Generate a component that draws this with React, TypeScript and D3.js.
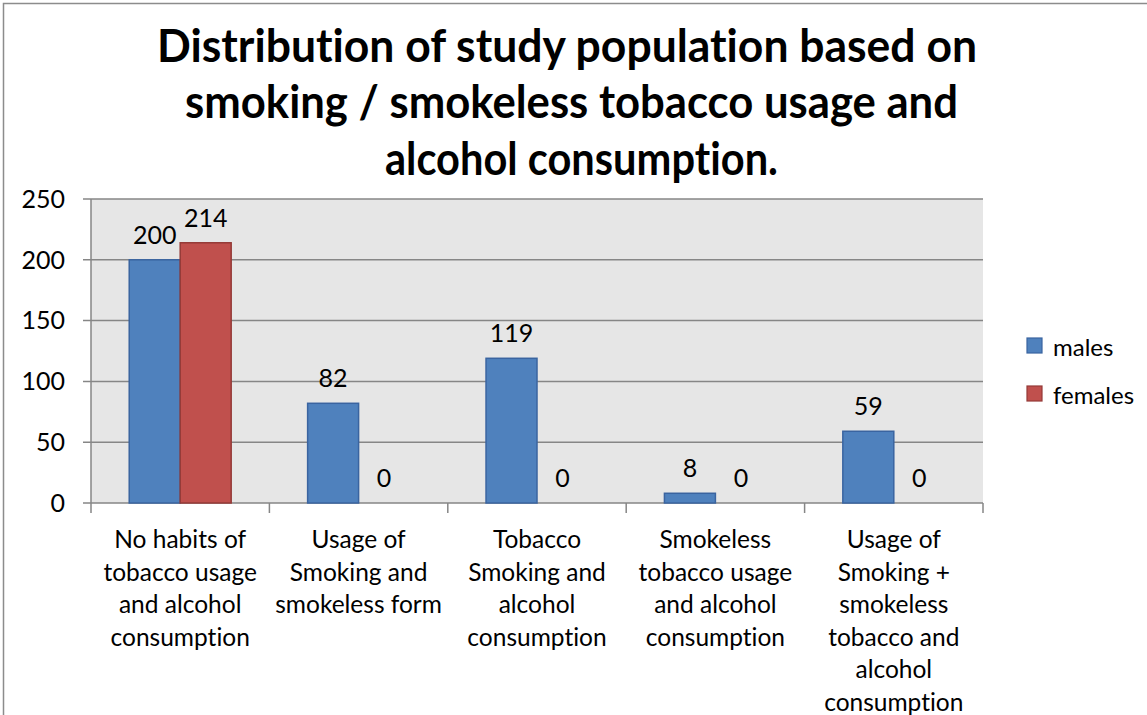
import React from "react";
import * as d3 from "d3";

const categories: string[][] = [
  ["No habits of", "tobacco usage", "and alcohol", "consumption"],
  ["Usage of", "Smoking and", "smokeless form"],
  ["Tobacco", "Smoking and", "alcohol", "consumption"],
  ["Smokeless", "tobacco usage", "and alcohol", "consumption"],
  ["Usage of", "Smoking +", "smokeless", "tobacco and", "alcohol", "consumption"],
];
const males: number[] = [200, 82, 119, 8, 59];
const females: number[] = [214, 0, 0, 0, 0];
const seriesNames: string[] = ["males", "females"];
const yTicks: number[] = [0, 50, 100, 150, 200, 250];
const titleLines: string[] = [
  "Distribution of study population based on",
  "smoking / smokeless tobacco usage and",
  "alcohol consumption.",
];

const W = 1147;
const H = 715;
const FONT = "Lato, 'Open Sans', sans-serif";
const fills = ["#4f81bd", "#c0504d"];
const strokes = ["#3a64a0", "#943a37"];

export default function App() {
  const plot = { left: 91, right: 983, top: 199, bottom: 503 };
  const x = d3
    .scaleBand<number>()
    .domain(d3.range(categories.length))
    .range([plot.left, plot.right])
    .paddingInner(0)
    .paddingOuter(0);
  const y = d3.scaleLinear().domain([0, 250]).range([plot.bottom, plot.top]);
  const inner = d3
    .scaleBand<number>()
    .domain([0, 1])
    .range([0, x.bandwidth()])
    .paddingInner(0)
    .paddingOuter(0.75);
  const series = [males, females];
  const titleX = [157, 185, 385];
  const titleLen = [820, 773, 393];
  const titleY = [62, 118, 175];
  const lineH = 32.5;

  return (
    <svg
      width={W}
      height={H}
      style={{ position: "absolute", left: 0, top: 0, background: "#fff", fontVariantLigatures: "none" }}
      fontFamily={FONT}
    >
      <rect x={3.5} y={3.5} width={W + 20} height={H + 20} fill="#fff" stroke="#8c8c8c" strokeWidth={1.5} />
      {titleLines.map((t, i) => (
        <text
          key={i}
          x={titleX[i]}
          y={titleY[i]}
          fontSize={45}
          fontWeight="bold"
          fill="#000"
          textLength={titleLen[i]}
          lengthAdjust="spacingAndGlyphs"
          style={{ fontVariantLigatures: "none" }}
        >
          {t}
        </text>
      ))}
      <rect
        x={plot.left}
        y={plot.top}
        width={plot.right - plot.left}
        height={plot.bottom - plot.top}
        fill="#e6e6e6"
      />
      {yTicks.map((t) => (
        <g key={t}>
          <line x1={plot.left - 8} x2={plot.right} y1={y(t)} y2={y(t)} stroke="#868686" strokeWidth={1.5} />
          <text x={65} y={y(t)} dy="0.35em" textAnchor="end" fontSize={25} fill="#000">
            {t}
          </text>
        </g>
      ))}
      <line x1={plot.left} x2={plot.left} y1={plot.top} y2={plot.bottom} stroke="#868686" strokeWidth={1.5} />
      {d3.range(categories.length + 1).map((i) => {
        const xx = i < categories.length ? (x(i) as number) : plot.right;
        return (
          <line key={i} x1={xx} x2={xx} y1={plot.bottom} y2={plot.bottom + 10} stroke="#868686" strokeWidth={1.5} />
        );
      })}
      {series.map((vals, s) =>
        vals.map((v, i) => {
          const bx = (x(i) as number) + (inner(s) as number);
          const bw = inner.bandwidth();
          return (
            <g key={`${s}-${i}`}>
              {v > 0 && (
                <rect
                  x={bx}
                  y={y(v)}
                  width={bw}
                  height={y(0) - y(v)}
                  fill={fills[s]}
                  stroke={strokes[s]}
                  strokeWidth={1.5}
                />
              )}
              <text x={bx + bw / 2} y={y(v) - 16} textAnchor="middle" fontSize={25} fill="#000">
                {v}
              </text>
            </g>
          );
        })
      )}
      {categories.map((lines, i) => (
        <text key={i} textAnchor="middle" fontSize={24.5} fill="#000" style={{ fontVariantLigatures: "none" }}>
          {lines.map((l, j) => (
            <tspan key={j} x={(x(i) as number) + x.bandwidth() / 2} y={548 + j * lineH}>
              {l}
            </tspan>
          ))}
        </text>
      ))}
      {seriesNames.map((n, s) => (
        <g key={n}>
          <rect x={1027} y={338 + s * 48} width={15} height={15} fill={fills[s]} stroke={strokes[s]} strokeWidth={1.2} />
          <text x={1053} y={356 + s * 48} fontSize={24} fill="#000">
            {n}
          </text>
        </g>
      ))}
    </svg>
  );
}
